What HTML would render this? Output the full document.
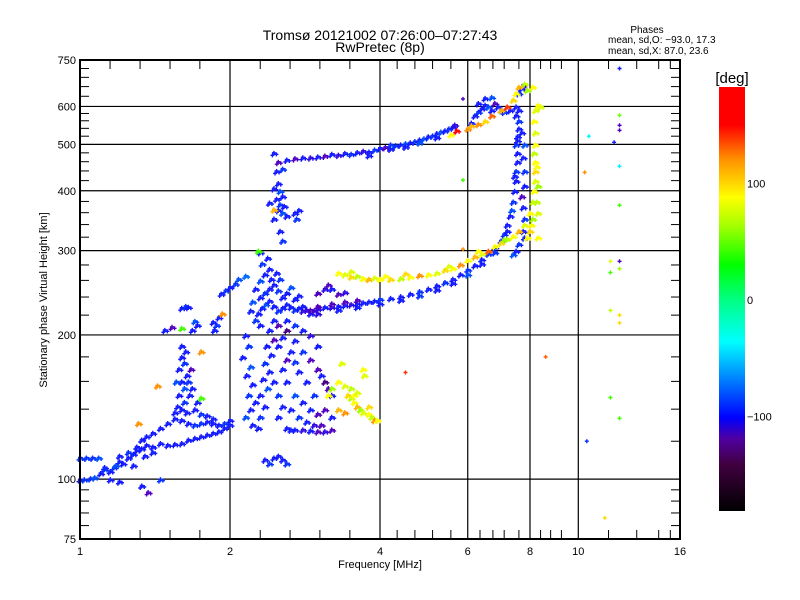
<!DOCTYPE html>
<html><head><meta charset="utf-8"><style>
html,body{margin:0;padding:0;background:#fff;}
svg{display:block;font-family:"Liberation Sans",sans-serif;}
</style></head><body>
<svg id="chart" width="800" height="600" viewBox="0 0 800 600" xmlns="http://www.w3.org/2000/svg">
<rect x="0" y="0" width="800" height="600" fill="#fff"/>
<text x="380" y="40" font-size="14" text-anchor="middle">Tromsø 20121002 07:26:00–07:27:43</text>
<text x="380" y="52" font-size="14" text-anchor="middle">RwPretec (8p)</text>
<g font-size="10">
<text x="647" y="33" text-anchor="middle">Phases</text>
<text x="608" y="43">mean, sd,O: −93.0, 17.3</text>
<text x="608" y="54">mean, sd,X:  87.0, 23.6</text>
</g>
<defs>
<linearGradient id="cbg" x1="0" y1="1" x2="0" y2="0">
<stop offset="0" stop-color="#000"/>
<stop offset="0.11" stop-color="#400040"/>
<stop offset="0.17" stop-color="#5000a0"/>
<stop offset="0.22" stop-color="#0000ff"/>
<stop offset="0.31" stop-color="#0080ff"/>
<stop offset="0.4" stop-color="#00ffff"/>
<stop offset="0.5" stop-color="#00ff80"/>
<stop offset="0.58" stop-color="#00ff00"/>
<stop offset="0.67" stop-color="#a0ff00"/>
<stop offset="0.74" stop-color="#ffff00"/>
<stop offset="0.83" stop-color="#ff9000"/>
<stop offset="0.91" stop-color="#ff0000"/>
<stop offset="1" stop-color="#ff0000"/>
</linearGradient>
</defs>
<g id="colorbar">
<rect x="719" y="87" width="26" height="424" fill="url(#cbg)"/>
<text x="732" y="83" font-size="15" text-anchor="middle">[deg]</text>
</g>
<g id="grid"></g>
<g id="points"></g>
<g id="axes"></g>
</svg>
<script>
const NS="http://www.w3.org/2000/svg";
// --- data arrays: [frequency MHz, virtual height km, phase deg]
const eLayerLow=[[1.0,100,-110],[1.02,100,-100],[1.05,100.5,-100],[1.07,101,-90],[1.1,103,-110],[1.12,106,-110],[1.15,104,-110],[1.17,106,-100],[1.2,109,-110],[1.22,108,-110],[1.25,111,-110],[1.28,113,-110],[1.3,115,-110],[1.33,116,-110],[1.36,118,-110],[1.4,117,-110],[1.45,119,-110],[1.5,118,-110],[1.55,118.5,-110],[1.6,119,-110],[1.65,121,-110],[1.7,122,-110],[1.75,123,-110],[1.8,124,-110],[1.85,125,-110],[1.9,126,-110],[1.95,128,-110],[2.0,130,-110],[1.0,111,-100],[1.03,111,-100],[1.06,111,-100],[1.09,111,-90],[1.12,105,-100],[1.18,107,-90]];
const eLayerHigh=[[1.3,117,-110],[1.33,121,-110],[1.36,123,-110],[1.4,125,-110],[1.45,128,-110],[1.5,131,-110],[1.55,134,-110],[1.6,133,-110],[1.65,131,-110],[1.7,130,-100],[1.75,131,-100],[1.8,132,-110],[1.85,131,-110],[1.9,130,-110],[1.95,131,-100],[2.0,133,-110],[1.2,112,-110],[1.25,114,-100],[1.35,112,-110],[1.4,114,-110],[1.28,107,-110],[1.15,100,-110],[1.2,99,-110],[1.33,97,-110],[1.37,94,-130],[1.45,100,-100],[1.31,131,120],[1.43,157,120]];
const eSpike=[[1.6,140,-110],[1.62,145,-100],[1.58,150,-110],[1.62,155,-90],[1.6,160,-110],[1.64,165,-110],[1.58,170,-110],[1.62,175,-100],[1.6,180,-110],[1.63,185,-110],[1.6,190,-110],[1.66,150,-110],[1.65,160,-100],[1.57,142,-110],[1.67,170,-130],[1.64,138,-110],[1.7,140,-110],[1.72,145,-110],[1.75,137,-100],[1.8,136,-110],[1.85,134,-110],[1.68,155,-110],[1.56,160,-90],[1.55,138,-110],[1.6,228,-110],[1.63,230,-100],[1.65,229,-110],[1.7,214,-90],[1.72,210,-110],[1.68,205,-110],[1.85,213,-110],[1.88,210,-100],[1.9,218,-110],[1.86,205,-110],[1.92,244,-110],[1.96,248,-100],[2.0,252,-110],[2.05,256,-100],[2.08,262,-90],[2.15,266,-80],[1.93,222,120],[1.48,205,-110],[1.53,208,-130],[1.6,207,40],[1.75,185,120],[1.75,148,40]];
const f1Cluster=[[2.15,200,-110],[2.18,190,-100],[2.12,180,-110],[2.2,172,-90],[2.16,165,-110],[2.22,158,-110],[2.18,150,-100],[2.25,145,-110],[2.2,140,-110],[2.15,135,-90],[2.22,130,-110],[2.28,128,-110],[2.3,135,-100],[2.35,142,-110],[2.3,150,-110],[2.38,155,-90],[2.33,162,-110],[2.4,168,-110],[2.35,175,-100],[2.42,182,-110],[2.37,190,-110],[2.45,196,-130],[2.4,205,-110],[2.3,210,-110],[2.25,215,-100],[2.28,222,-110],[2.32,228,-110],[2.36,232,-90],[2.4,236,-110],[2.45,230,-110],[2.5,225,-100],[2.55,228,-110],[2.6,232,-110],[2.65,229,-110],[2.7,226,-100],[2.75,228,-110],[2.8,230,-110],[2.85,226,-120],[2.9,222,-110],[2.95,225,-120],[2.3,240,-110],[2.35,245,-100],[2.4,250,-110],[2.45,255,-110],[2.3,260,-90],[2.35,268,-110],[2.4,275,-110],[2.32,282,-100],[2.38,290,-110],[2.3,298,-110],[2.28,300,40],[2.42,262,-110],[2.5,248,-100],[2.55,240,-110],[2.6,245,-110],[2.65,252,-90],[2.7,238,-110],[2.75,242,-110],[2.48,270,-110],[2.52,262,-100],[2.25,250,-110],[2.22,235,-90],[2.2,225,-110],[2.45,160,-110],[2.5,150,-100],[2.55,142,-110],[2.5,135,-110],[2.6,128,-110],[2.65,127,-110],[2.7,127,-110],[2.8,127,-120],[2.9,126.5,-110],[3.0,126,-130],[3.1,126,-120],[3.2,127,-130],[2.55,170,-110],[2.6,178,-130],[2.65,185,-110],[2.7,176,-100],[2.75,168,-110],[2.6,160,-110],[2.7,150,-90],[2.8,145,-110],[2.9,140,-110],[3.0,137,-130],[2.5,190,-110],[2.55,198,-110],[2.6,205,-140],[2.7,195,-110],[2.8,185,-100],[2.9,178,-130],[3.0,170,-130],[3.05,165,-110],[3.1,160,-140],[3.15,155,-130],[3.2,150,-110],[3.1,140,-130],[3.2,135,-110],[2.85,160,-110],[2.95,150,-100],[2.45,215,-110],[2.5,210,-130],[2.6,215,-110],[2.7,210,-100],[2.8,205,-110],[2.9,200,-120],[3.0,190,-110],[2.65,140,-110],[2.75,135,-100],[2.85,132,-110],[2.95,130,-120],[3.05,130,-130],[2.35,110,-110],[2.4,108,-100],[2.45,111,-110],[2.55,110,-110],[2.6,108,-100],[2.5,112,-110]];
const f1Column=[[2.45,480,-110],[2.5,460,-130],[2.48,440,-110],[2.55,445,-100],[2.5,415,-110],[2.45,405,-110],[2.52,400,-90],[2.55,390,-110],[2.48,385,-110],[2.52,375,-100],[2.57,372,-110],[2.5,365,-110],[2.55,360,-90],[2.6,355,-110],[2.7,360,-110],[2.72,350,-100],[2.75,365,-110],[2.45,350,-110],[2.52,330,-110],[2.55,315,-100],[2.4,378,-110],[2.45,366,110]];
const upperTrace=[[2.6,465,-110],[2.7,468,-130],[2.8,470,-110],[2.9,470,-120],[3.0,472,-110],[3.1,474,-130],[3.2,478,-110],[3.3,476,-120],[3.4,480,-110],[3.5,478,-100],[3.6,482,-110],[3.7,485,-120],[3.8,483,-110],[3.9,488,-100],[4.0,492,-110],[4.1,494,-130],[4.2,490,-110],[4.3,498,-100],[4.4,500,-110],[4.5,503,-90],[4.6,505,-110],[4.7,508,-100],[4.8,512,-110],[4.9,515,-90],[5.0,520,-110],[5.1,522,-100],[5.2,528,-110],[5.3,532,-90],[5.4,535,-110],[5.5,540,-100],[5.6,545,-110],[5.65,550,-120],[5.7,535,150],[3.8,475,-110],[4.5,495,-110],[4.2,500,-100],[5.2,518,-110],[4.8,505,-90],[5.55,525,90],[6.1,555,-110],[6.2,575,-110],[6.3,585,-100],[6.4,595,-110],[6.5,605,-110],[6.6,600,-90],[6.7,590,-110],[6.8,610,-130],[6.9,600,-110],[7.0,590,-110],[7.1,585,-100],[6.3,610,-110],[6.5,625,-110],[6.7,628,-90],[7.3,590,-110],[7.5,600,-110],[7.6,640,-100],[7.7,655,-110],[7.75,665,-130],[6.0,540,120],[6.1,548,110],[6.3,552,120],[6.5,560,100],[6.7,575,130],[7.0,590,110],[7.2,600,140],[7.4,620,100],[7.5,640,90],[7.6,660,110],[7.8,670,70],[7.9,650,60],[8.1,660,90],[8.3,605,90],[8.4,600,80]];
const oTrace=[[2.8,225,-120],[2.9,226,-130],[3.0,227,-120],[3.1,229,-110],[3.2,229,-120],[3.3,230,-110],[3.4,231,-110],[3.5,232,-120],[3.6,233,-110],[3.7,234,-110],[3.8,235,-110],[3.9,236,-110],[4.0,238,-100],[4.2,239,-110],[4.4,241,-110],[4.6,244,-110],[4.8,247,-100],[5.0,250,-110],[5.2,254,-110],[5.4,258,-100],[5.6,262,-110],[5.8,268,-110],[6.0,274,-100],[6.2,280,-110],[6.4,288,-110],[6.6,296,-100],[6.8,305,-110],[7.0,315,-110],[7.1,325,-100],[7.2,340,-110],[7.3,355,-110],[7.4,380,-100],[7.45,400,-110],[7.5,420,-110],[7.5,440,-100],[7.55,460,-110],[7.55,480,-110],[7.5,500,-100],[7.55,520,-110],[7.6,540,-110],[7.6,560,-100],[7.5,575,-110],[7.6,590,-110],[3.0,222,-120],[3.3,226,-110],[3.6,229,-110],[4.0,233,-110],[4.4,237,-110],[4.8,242,-100],[5.2,249,-110],[5.6,257,-110],[6.0,268,-90],[6.4,282,-110],[6.8,298,-100],[7.2,330,-110],[7.35,365,-90],[7.45,430,-110],[7.55,510,-110],[7.75,330,-110],[7.8,350,-100],[7.75,370,-110],[7.7,390,-130],[7.8,410,-110],[7.8,440,-100],[7.75,470,-110],[7.8,500,-90],[7.7,530,-110],[7.8,320,-110],[7.6,310,-100],[7.5,300,-110],[7.4,295,-90],[3.0,230,-130],[3.2,233,-130],[3.4,235,-130],[3.6,237,-130],[3.0,245,-130],[3.1,250,-120],[3.15,255,-130],[3.2,250,-110],[3.3,244,-130],[3.4,246,-120]];
const xTrace=[[3.3,270,90],[3.4,268,80],[3.5,265,100],[3.6,266,70],[3.7,263,90],[3.8,262,110],[3.9,264,80],[4.0,262,90],[4.2,262,100],[4.4,263,70],[4.6,265,90],[4.8,267,120],[5.0,268,90],[5.2,270,80],[5.4,274,100],[5.6,276,90],[5.8,281,120],[6.0,287,90],[6.2,292,110],[6.4,296,80],[6.6,300,130],[6.8,307,90],[7.0,312,100],[7.2,318,70],[7.4,322,90],[7.6,330,110],[7.8,340,80],[8.0,360,90],[8.1,380,70],[8.15,400,90],[8.2,420,80],[8.2,440,100],[8.2,460,90],[8.15,480,70],[8.2,500,90],[8.2,530,80],[8.15,560,90],[8.2,590,80],[8.05,340,90],[8.1,350,60],[8.3,360,80],[8.3,320,90],[8.25,380,70],[8.0,330,100],[7.9,320,90],[3.5,272,80],[4.1,266,90],[4.5,269,100],[5.5,279,80],[6.3,300,90],[7.1,317,60],[8.25,450,90],[8.3,410,60]];
const xCluster=[[3.3,160,90],[3.4,157,80],[3.45,150,100],[3.5,148,70],[3.55,145,90],[3.6,142,110],[3.65,140,60],[3.7,138,80],[3.8,137,90],[3.85,135,70],[3.9,133,120],[3.7,170,90],[3.72,165,80],[3.35,175,80],[3.2,155,60],[3.15,150,90],[3.3,140,110],[3.4,138,120],[3.55,150,90],[3.6,152,80],[3.5,155,70],[3.8,142,100],[3.95,133,90]];
const scattered=[[5.87,622,-130],[5.87,421,40],[5.87,302,120],[4.5,167,140],[8.6,180,130],[12.1,720,-110],[12.1,575,50],[12.1,548,-130],[12.1,535,-130],[10.5,520,-40],[11.8,505,-110],[12.1,450,-40],[10.3,437,120],[12.1,373,40],[11.6,285,80],[12.1,285,-130],[12.1,275,60],[11.6,270,40],[11.6,225,70],[12.1,220,100],[12.1,212,100],[11.6,148,40],[12.1,134,40],[10.4,120,-100],[11.3,83,100]];
const seriesList=[eLayerLow,eLayerHigh,eSpike,f1Cluster,f1Column,upperTrace,oTrace,xTrace,xCluster,scattered];
const isolatedSeries=scattered;
const yMajor=[75,100,200,300,400,500,600,750];
const yMinor=[80,85,90,95,120,140,160,180,220,240,260,280,320,340,360,380,420,440,460,480,520,540,560,580,630,660,690,720];
const xMajor=[1,2,4,6,8,10,16];
const xMinor=[1.149,1.32,1.516,1.74,2.3,2.64,3.03,3.48,4.33,4.7,5.1,5.55,6.35,6.74,7.1,7.6,8.4,8.8,9.25,11.5,13.1,14.5,15.3];
const gridX=[2,4,6,8,10];
const gridY=[100,200,300,400,500,600];
const cbTicks=[100,0,-100];

const L=80,R=680,T=60,B=539;
function xs(f){return L+150*Math.log2(f);}
function ys(h){return T+479*Math.log10(750/h);}
function cbY(p){return 300-1.165*p;}
const stops=[[-180,[0,0,0]],[-150,[60,0,70]],[-130,[80,0,190]],[-112,[20,20,255]],[-95,[0,60,255]],[-70,[0,140,255]],[-37,[0,255,255]],[0,[0,255,128]],[27,[0,255,0]],[60,[160,255,0]],[90,[255,255,0]],[120,[255,144,0]],[150,[255,0,0]],[180,[255,0,0]]];
function color(p){
  for(let i=0;i<stops.length-1;i++){
    const a=stops[i],b=stops[i+1];
    if(p<=b[0]){const t=Math.max(0,(p-a[0])/(b[0]-a[0]));
      const c=a[1].map((v,k)=>Math.round(v+(b[1][k]-v)*t));return `rgb(${c[0]},${c[1]},${c[2]})`;}
  }
  return "rgb(255,0,0)";
}
function mk(tag,attrs,parent){const e=document.createElementNS(NS,tag);for(const k in attrs)e.setAttribute(k,attrs[k]);parent.appendChild(e);return e;}
const grid=document.getElementById('grid'),pts=document.getElementById('points'),axes=document.getElementById('axes');
gridX.forEach(f=>{const l=mk('line',{x1:xs(f),x2:xs(f),y1:T,y2:B,stroke:'#000','stroke-width':1.2},grid);

});
gridY.forEach(h=>{const l=mk('line',{x1:L,x2:R,y1:ys(h),y2:ys(h),stroke:'#000','stroke-width':1.2},grid);

});
seriesList.forEach(s=>{const glyph=(s===isolatedSeries)?[[0,0]]:[[0,0],[2.5,1.5],[-1.5,2.5]];
 s.forEach(d=>{
  const x=xs(d[0]),y=ys(d[1]),c=color(d[2]);
  let dd='';glyph.forEach(o=>{const gx=x+o[0],gy=y+o[1];dd+=`M${gx-2} ${gy}h4M${gx} ${gy-2}v4`;});
  const g=mk('path',{d:dd,stroke:c,'stroke-width':1.4,fill:'none'},pts);
  
  
});});
const frame=mk('rect',{x:L,y:T,width:R-L,height:B-T,fill:'none',stroke:'#000','stroke-width':2},axes);


yMinor.forEach(h=>{const y=ys(h);
  mk('line',{x1:L,x2:L+9,y1:y,y2:y,stroke:'#000'},axes);
  mk('line',{x1:R-9,x2:R,y1:y,y2:y,stroke:'#000'},axes);});
xMinor.forEach(f=>{const x=xs(f);
  mk('line',{x1:x,x2:x,y1:B-9,y2:B,stroke:'#000'},axes);
  mk('line',{x1:x,x2:x,y1:T,y2:T+9,stroke:'#000'},axes);});
yMajor.forEach(h=>{const t=mk('text',{x:L-4,y:ys(h)+4,'font-size':11,'text-anchor':'end'},axes);t.textContent=h;

});
xMajor.forEach(f=>{const t=mk('text',{x:xs(f),y:555,'font-size':11,'text-anchor':'middle'},axes);t.textContent=f;

});
const xt=mk('text',{x:380,y:568,'font-size':11,'text-anchor':'middle'},axes);xt.textContent='Frequency [MHz]';


const yt=mk('text',{x:0,y:0,'font-size':11,'text-anchor':'middle',transform:'translate(47,300) rotate(-90)'},axes);yt.textContent='Stationary phase Virtual Height [km]';


const cb=document.getElementById('colorbar');
cbTicks.forEach(p=>{const t=mk('text',{x:747,y:cbY(p)+4,'font-size':11},cb);t.textContent=p===-100?'−100':p;

});
</script>
</body></html>
